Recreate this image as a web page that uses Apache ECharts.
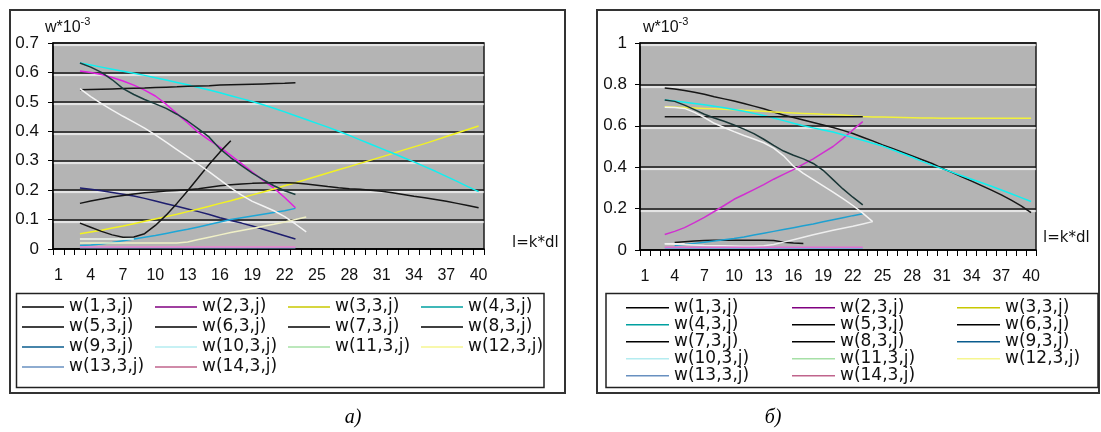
<!DOCTYPE html>
<html>
<head>
<meta charset="utf-8">
<script src="https://cdn.jsdelivr.net/npm/echarts@6/dist/echarts.min.js"></script>
<style>
  html, body { margin: 0; padding: 0; background: #fff; }
  #chart { width: 1101px; height: 432px; }
</style>
</head>
<body>
<div id="chart"></div>
<script>
// Category axis: step number k along the element
const steps = ['1','2','3','4','5','6','7','8','9','10','11','12','13','14','15','16','17','18','19','20',
               '21','22','23','24','25','26','27','28','29','30','31','32','33','34','35','36','37','38','39','40'];

const names = ['w(1,3,j)','w(2,3,j)','w(3,3,j)','w(4,3,j)','w(5,3,j)','w(6,3,j)','w(7,3,j)',
               'w(8,3,j)','w(9,3,j)','w(10,3,j)','w(11,3,j)','w(12,3,j)','w(13,3,j)','w(14,3,j)'];

// Panel а): first step of each series, then its values (w*10^-3)
const aStart = [3,3,3,3,3,3,3,3,3,3,3,3,3,3];
const aW1  = [.207,.203,.198,.192,.186,.180,.172,.163,.154,.145,.136,.127,.117,.106,.097,.088,.078,.067,.056,.045,.034];
const aW2  = [.605,.600,.593,.583,.571,.557,.540,.520,.492,.460,.428,.396,.370,.346,.318,.290,.261,.233,.207,.175,.140];
const aW3  = [.052,.058,.064,.071,.078,.086,.094,.102,.110,.118,.127,.136,.145,.155,.164,.174,.184,.194,.204,.215,
              .225,.236,.247,.258,.269,.280,.291,.302,.313,.324,.336,.347,.358,.370,.382,.394,.406,.418];
const aW4  = [.632,.625,.618,.611,.604,.597,.590,.582,.574,.566,.558,.549,.540,.531,.521,.511,.501,.490,.478,.466,
              .453,.440,.427,.414,.400,.386,.371,.356,.341,.326,.311,.296,.280,.264,.247,.230,.212,.195];
const aW5  = [.541,.542,.543,.544,.545,.546,.547,.549,.550,.551,.553,.554,.555,.557,.558,.559,.560,.561,.562,.563,.565];
const aW6  = [.155,.163,.170,.177,.182,.187,.191,.194,.197,.199,.201,.205,.210,.215,.218,.221,.223,.224,.225,.225,
              .224,.221,.217,.212,.208,.205,.203,.200,.196,.191,.185,.179,.174,.168,.162,.155,.148,.140];
const aW7  = [.632,.618,.600,.575,.545,.525,.508,.493,.478,.458,.435,.408,.380,.340,.310,.283,.258,.236,.215,.198,.185];
const aW8  = [.088,.074,.060,.048,.040,.041,.052,.080,.115,.155,.198,.243,.288,.330,.368];
const aW9  = [.012,.014,.017,.022,.028,.034,.040,.046,.053,.060,.067,.075,.083,.092,.100,.106,.112,.118,.124,.130,.138];
const aW10 = [.545,.518,.494,.472,.451,.431,.411,.388,.363,.338,.313,.288,.262,.235,.208,.183,.162,.146,.130,.110,.085,.058];
const aW11 = [.034,.034,.034,.034,.034,.034];
const aW12 = [.020,.020,.020,.020,.020,.020,.020,.020,.020,.020,.024,.032,.040,.048,.056,.063,.070,.077,.084,.092,.100,.109];
const aW13 = [.004,.004,.004,.004,.004,.004,.004,.004,.004,.004,.004,.004,.004,.004,.004,.004,.004,.004,.004,.004,.004];
const aW14 = [.007,.007,.007,.007,.007,.007,.007,.007,.007,.007,.007,.007,.007,.007,.007,.007,.007,.007,.007,.007,.007];

// Panel б)
const bStart = [3,3,3,3,3,4,3,3,4,3,3,3,3,3];
const bW1  = [.783,.778,.771,.762,.752,.740,.730,.720,.708,.695,.682,.667,.652,.640,.628,.616,.604,.592,.578,.563,
              .545,.527,.508,.490,.472,.454,.436,.418,.395,.375,.354,.333,.311,.289,.266,.241,.213,.180];
const bW2  = [.075,.090,.108,.132,.158,.186,.215,.245,.268,.292,.316,.342,.365,.388,.415,.440,.470,.500,.538,.580,.620];
const bW3  = [.692,.690,.688,.686,.684,.682,.680,.678,.675,.673,.670,.667,.664,.662,.660,.658,.656,.655,.652,.648,
              .645,.643,.642,.641,.640,.639,.638,.638,.637,.637,.637,.637,.637,.637,.637,.637,.637,.637];
const bW4  = [.725,.720,.714,.708,.702,.695,.687,.679,.670,.660,.650,.638,.625,.612,.600,.590,.580,.570,.557,.543,
              .530,.516,.502,.484,.466,.448,.428,.410,.393,.376,.359,.342,.325,.308,.290,.272,.253,.234];
const bW5  = [.644,.644,.644,.644,.644,.644,.644,.644,.644,.644,.644,.644,.644,.644,.644,.644,.644,.644,.644,.644,.644];
const bW6  = [.036,.040,.044,.046,.047,.047,.047,.047,.047,.047,.046,.038,.034,.032];
const bW7  = [.725,.718,.700,.678,.656,.638,.622,.604,.584,.562,.535,.505,.478,.458,.440,.418,.385,.340,.295,.255,.218];
const bW8  = [];
const bW9  = [.022,.026,.032,.038,.044,.050,.056,.063,.072,.081,.090,.099,.108,.117,.126,.136,.146,.156,.166,.175];
const bW10 = [.690,.688,.684,.665,.640,.612,.592,.572,.553,.536,.518,.492,.455,.405,.370,.340,.310,.280,.248,.215,.178,.137];
const bW11 = [.030,.030,.030];
const bW12 = [.030,.028,.026,.024,.022,.021,.020,.019,.018,.018,.020,.027,.038,.050,.062,.074,.085,.095,.105,.115,.126,.137];
const bW13 = [.008,.008,.008,.008,.008,.008,.008,.008,.008,.008,.008,.008,.008,.008,.008,.008,.008,.008,.008,.008,.008];
const bW14 = [.013,.013,.013,.013,.013,.013,.013,.013,.013,.013,.013,.013,.013,.013,.013,.013,.013,.013,.013,.013,.013];

const aValues = [aW1,aW2,aW3,aW4,aW5,aW6,aW7,aW8,aW9,aW10,aW11,aW12,aW13,aW14];
const bValues = [bW1,bW2,bW3,bW4,bW5,bW6,bW7,bW8,bW9,bW10,bW11,bW12,bW13,bW14];

// Line colours inside each plot, and the legend swatch colours
const aColors = ['#1e1e6e','#e020e0','#f2f222','#10f0f0','#161616','#161616','#1a3c3c',
                 '#161616','#1ea6d6','#f4f4f4','#eef6ee','#f0f0c6','#7aa6d6','#ee80d0'];
const bColors = ['#161616','#d030d0','#f2f23a','#10f0f0','#161616','#161616','#1a3636',
                 '#161616','#1ea0d0','#f4f4f4','#f2f2f2','#eeeeee','#7aa6d6','#e070d0'];
const legendColors = ['#000000','#800080','#c8c800','#00a0a0','#000000','#000000','#000000',
                      '#000000','#0a5c8e','#b4ecf0','#a6e0a6','#f6f690','#6890c0','#c0648c'];

function track(start, values) {
  return new Array(start - 1).fill(null).concat(values);
}

const FONT = 'Liberation Sans';
const WIDE = 'DejaVu Sans';

function catAxis(gi) {
  return {
    type: 'category', gridIndex: gi, data: steps, boundaryGap: true,
    axisLine: { lineStyle: { color: '#000', width: 1.5 } },
    axisTick: { show: true, interval: 0, length: 6, lineStyle: { color: '#000', width: 1 } },
    axisLabel: { interval: 2, margin: 19, fontSize: 16, color: '#111', fontFamily: FONT },
    splitLine: { show: false }
  };
}

function valAxis(gi, max, step, margin) {
  return {
    type: 'value', gridIndex: gi, min: 0, max: max, interval: step,
    axisLine: { show: true, lineStyle: { color: '#000', width: 1.5 } },
    axisTick: { show: true, length: 5, lineStyle: { color: '#000', width: 1 } },
    axisLabel: {
      margin: margin, fontSize: 17, color: '#111', fontFamily: FONT,
      formatter: v => String(+v.toFixed(1))
    },
    splitLine: {
      show: true,
      lineStyle: { color: '#141414', width: 1.5, shadowColor: 'rgba(255,255,255,0.95)', shadowOffsetY: 2, shadowBlur: 1 }
    }
  };
}

function panelSeries(gi, starts, values, colors) {
  return values.map((vals, i) => ({
    type: 'line', name: names[i], xAxisIndex: gi, yAxisIndex: gi,
    data: track(starts[i], vals),
    symbol: 'none', showSymbol: false, silent: true,
    lineStyle: { color: colors[i], width: 1.5 },
    itemStyle: { color: colors[i] },
    emphasis: { disabled: true }
  }));
}

function legendColumn(left, top, rowStep, lineW, idx) {
  return {
    orient: 'vertical', left: left, top: top, padding: 0, itemGap: 0,
    itemWidth: lineW, itemHeight: 1.5, icon: 'rect', selectedMode: false,
    textStyle: { fontFamily: WIDE, fontSize: 17, lineHeight: rowStep, color: '#111' },
    data: idx.map(i => ({ name: names[i], itemStyle: { color: legendColors[i] } }))
  };
}

const plotBg = '#b4b4b4';

const option = {
  animation: false,
  backgroundColor: '#fff',
  textStyle: { fontFamily: FONT },
  grid: [
    { left: 53, top: 43, width: 431, height: 206, show: true, backgroundColor: plotBg, borderColor: '#1a1a1a', borderWidth: 1.5 },
    { left: 640, top: 43, width: 396, height: 207, show: true, backgroundColor: plotBg, borderColor: '#1a1a1a', borderWidth: 1.5 }
  ],
  xAxis: [catAxis(0), catAxis(1)],
  yAxis: [valAxis(0, 0.7, 0.1, 14), valAxis(1, 1, 0.2, 13)],
  legend: [
    legendColumn(22, 297, 20, 42, [0, 4, 8, 12]),
    legendColumn(155, 297, 20, 42, [1, 5, 9, 13]),
    legendColumn(288, 297, 20, 42, [2, 6, 10]),
    legendColumn(421, 297, 20, 42, [3, 7, 11]),
    legendColumn(626, 299.25, 15.5, 43, [0, 3, 6, 9, 12]),
    legendColumn(792, 299.25, 15.5, 43, [1, 4, 7, 10, 13]),
    legendColumn(957, 299.25, 15.5, 43, [2, 5, 8, 11])
  ],
  series: panelSeries(0, aStart, aValues, aColors).concat(panelSeries(1, bStart, bValues, bColors)),
  graphic: [
    { type: 'rect', silent: true, shape: { x: 10, y: 10, width: 555, height: 383 },
      style: { fill: 'none', stroke: '#333', lineWidth: 2 } },
    { type: 'rect', silent: true, shape: { x: 597, y: 10, width: 502, height: 383 },
      style: { fill: 'none', stroke: '#333', lineWidth: 2 } },
    { type: 'rect', silent: true, shape: { x: 16.5, y: 293.5, width: 527.5, height: 94 },
      style: { fill: 'none', stroke: '#222', lineWidth: 1.5 } },
    { type: 'rect', silent: true, shape: { x: 606, y: 293.5, width: 492, height: 94 },
      style: { fill: 'none', stroke: '#222', lineWidth: 1.5 } },
    { type: 'text', silent: true, x: 45, y: 28,
      style: { text: '{a|w*10}{b|-3}', verticalAlign: 'middle', align: 'left',
        rich: { a: { fontFamily: FONT, fontSize: 16, lineHeight: 24, fill: '#111' },
                b: { fontFamily: FONT, fontSize: 11, lineHeight: 11, verticalAlign: 'top', fill: '#111' } } } },
    { type: 'text', silent: true, x: 643, y: 28,
      style: { text: '{a|w*10}{b|-3}', verticalAlign: 'middle', align: 'left',
        rich: { a: { fontFamily: FONT, fontSize: 16, lineHeight: 24, fill: '#111' },
                b: { fontFamily: FONT, fontSize: 11, lineHeight: 11, verticalAlign: 'top', fill: '#111' } } } },
    { type: 'text', silent: true, x: 512, y: 243,
      style: { text: 'l=k*dl', font: '15px "DejaVu Sans"', fill: '#111', verticalAlign: 'middle', align: 'left' } },
    { type: 'text', silent: true, x: 1043, y: 238,
      style: { text: 'l=k*dl', font: '15px "DejaVu Sans"', fill: '#111', verticalAlign: 'middle', align: 'left' } },
    { type: 'text', silent: true, x: 353, y: 418,
      style: { text: 'а)', font: 'italic 20px "Liberation Serif"', fill: '#000', verticalAlign: 'middle', align: 'center' } },
    { type: 'text', silent: true, x: 773, y: 418,
      style: { text: 'б)', font: 'italic 20px "Liberation Serif"', fill: '#000', verticalAlign: 'middle', align: 'center' } }
  ]
};

const chart = echarts.init(document.getElementById('chart'));
chart.setOption(option);
</script>
</body>
</html>
